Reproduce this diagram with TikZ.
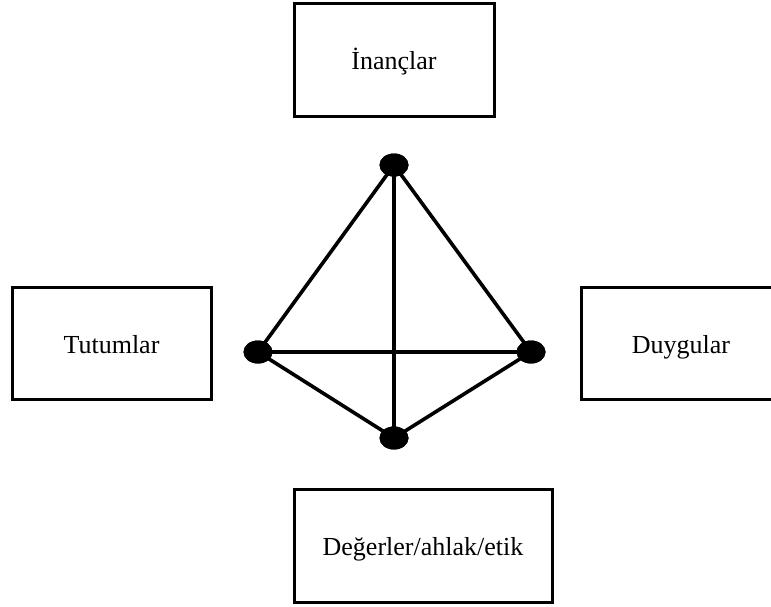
\documentclass[tikz,border=0pt]{standalone}
\usepackage{fontspec}
\setmainfont{Liberation Serif}
\usetikzlibrary{shapes.geometric}
\begin{document}
\begin{tikzpicture}[x=1pt,y=-1pt,
  conceptbox/.style={draw=black,line width=3pt,fill=white,inner sep=0pt,
    text height=24pt,text depth=4pt,
    font=\fontsize{26}{30}\selectfont},
  vertex/.style={ellipse,fill=black,minimum width=29pt,minimum height=23pt,inner sep=0pt},
  edge/.style={line width=3.6pt}]
  \clip (0,0) rectangle (771,606);
  \fill[white] (0,0) rectangle (771,606);

  % concept boxes
  \node[conceptbox,minimum width=200pt,minimum height=113pt] (inanc) at (394,59.5) {İnançlar};
  \node[conceptbox,minimum width=199pt,minimum height=112pt] (tutum) at (111.5,343) {Tutumlar};
  \node[conceptbox,minimum width=200pt,minimum height=112pt] (duygu) at (681,343) {Duygular};
  \node[conceptbox,minimum width=258pt,minimum height=113pt] (deger) at (423,545.5) {Değerler/ahlak/etik};

  % tetrahedron vertices
  \node[vertex] (t) at (394,165) {};
  \node[vertex] (l) at (258,352) {};
  \node[vertex] (r) at (531,352) {};
  \node[vertex] (b) at (394,438) {};

  % tetrahedron edges
  \draw[edge] (t.center) -- (l.center);
  \draw[edge] (t.center) -- (r.center);
  \draw[edge] (t.center) -- (b.center);
  \draw[edge] (l.center) -- (r.center);
  \draw[edge] (l.center) -- (b.center);
  \draw[edge] (r.center) -- (b.center);

  % redraw vertices on top of the edges
  \node[vertex] at (t) {};
  \node[vertex] at (l) {};
  \node[vertex] at (r) {};
  \node[vertex] at (b) {};
\end{tikzpicture}
\end{document}
